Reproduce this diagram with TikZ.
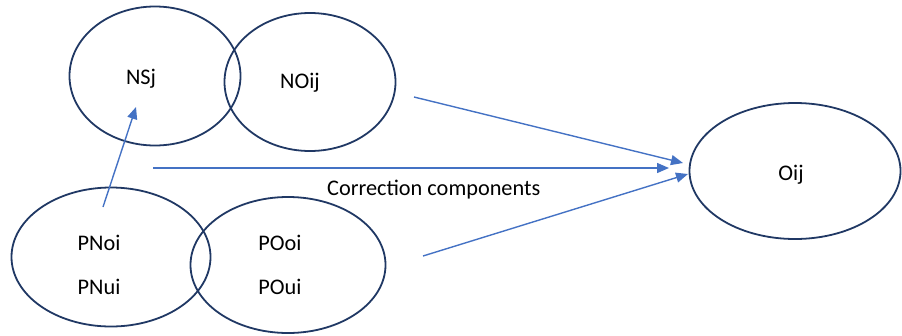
\documentclass[tikz,border=0pt]{standalone}
\usepackage{fontspec}
\setmainfont{Carlito}
\usetikzlibrary{shapes.geometric,arrows.meta,calc}
\definecolor{rimnavy}{HTML}{203864}
\definecolor{flowblue}{HTML}{4472C4}

\begin{document}
\begin{tikzpicture}[x=1pt, y=-1pt, font=\fontsize{22.3}{26}\selectfont]
\tikzset{
  blob/.style={ellipse, draw=rimnavy, line width=1.8pt, inner sep=0pt},
  flow/.style={draw=flowblue, line width=1.4pt, -{Triangle[length=12pt,width=10pt]}},
  lbl/.style={inner sep=0pt, text=black}
}
\useasboundingbox (0,0) rectangle (902,335);
\node[blob, minimum width=171pt, minimum height=139pt] (nsj) at (155,76) {};
\node[blob, minimum width=171pt, minimum height=138pt] (noij) at (310,82) {};
\node[blob, minimum width=199pt, minimum height=139pt] (pn) at (111,257) {};
\node[blob, minimum width=195pt, minimum height=136pt] (po) at (288,265) {};
\node[blob, minimum width=211pt, minimum height=136pt] (oij) at (795,171) {};
\node[lbl] (tnsj) at (141,79) {NSj};
\node[lbl] (tnoij) at (300,83) {NOij};
\node[lbl] (tpnoi) at (99,243) {PNoi};
\node[lbl] (tpnui) at (99,287) {PNui};
\node[lbl] (tpooi) at (280,243) {POoi};
\node[lbl] (tpoui) at (280,287) {POui};
\node[lbl] (toij) at (791,175) {Oij};
\coordinate (up0) at (103,207);
\coordinate (up1) at (136,107);
\coordinate (top0) at (414,97);
\coordinate (top1) at (683,163);
\coordinate (mid0) at (153,168);
\coordinate (mid1) at (669,168);
\coordinate (low0) at (423,256);
\coordinate (low1) at (688,174);
\draw[flow] (up0) -- (up1);
\draw[flow] (top0) -- (top1);
\draw[flow] (mid0) -- node[lbl, pos=0.544, yshift=-22pt] (corr) {Correction components} (mid1);
\draw[flow] (low0) -- (low1);
\end{tikzpicture}
\end{document}
